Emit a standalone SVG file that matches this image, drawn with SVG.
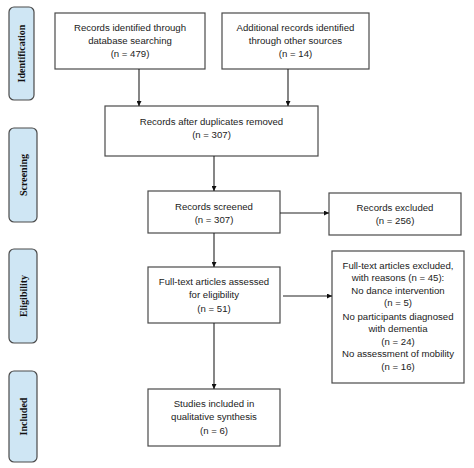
<svg xmlns="http://www.w3.org/2000/svg" width="474" height="468" viewBox="0 0 474 468">
<defs>
<marker id="ah" viewBox="0 0 10 10" refX="10" refY="5" markerWidth="5" markerHeight="5" orient="auto" markerUnits="userSpaceOnUse">
<path d="M0,0 L10,5 L0,10 Z" fill="#111"/>
</marker>
<style>
.box{fill:#fff;stroke:#4a4a4a;stroke-width:1.2}
.lab{fill:#cfe6f4;stroke:#4a4a4a;stroke-width:1.2}
.t{font-family:"Liberation Sans",Arial,sans-serif;font-size:9.6px;fill:#222;text-anchor:middle}
.lt{font-family:"Liberation Serif","Times New Roman",serif;font-size:10px;font-weight:bold;fill:#111;text-anchor:middle}
.c{stroke:#222;stroke-width:1.1;fill:none;marker-end:url(#ah)}
</style>
</defs>
<rect width="474" height="468" fill="#fff"/>
<g id="label-identification">
<rect class="lab" x="9" y="7" width="25" height="93" rx="5"/>
<text class="lt" transform="translate(25,53.5) rotate(-90)">Identification</text>
</g>
<g id="label-screening">
<rect class="lab" x="9" y="128" width="28" height="94" rx="5"/>
<text class="lt" transform="translate(26.5,175) rotate(-90)">Screening</text>
</g>
<g id="label-eligibility">
<rect class="lab" x="9" y="249" width="28" height="94" rx="5"/>
<text class="lt" transform="translate(26.5,296) rotate(-90)">Eligibility</text>
</g>
<g id="label-included">
<rect class="lab" x="9" y="371" width="28" height="91" rx="5"/>
<text class="lt" transform="translate(26.5,416.5) rotate(-90)">Included</text>
</g>
<g id="n-database">
<rect class="box" x="55" y="13" width="150" height="56"/>
<text class="t" x="130" y="31">Records identified through</text>
<text class="t" x="130" y="44">database searching</text>
<text class="t" x="130" y="57">(n = 479)</text>
</g>
<g id="n-other">
<rect class="box" x="222" y="13" width="147" height="56"/>
<text class="t" x="295.5" y="31">Additional records identified</text>
<text class="t" x="295.5" y="44">through other sources</text>
<text class="t" x="295.5" y="57">(n = 14)</text>
</g>
<g id="n-duplicates">
<rect class="box" x="105" y="106" width="213" height="50"/>
<text class="t" x="211.5" y="125">Records after duplicates removed</text>
<text class="t" x="211.5" y="138">(n = 307)</text>
</g>
<g id="n-screened">
<rect class="box" x="148" y="191" width="132" height="42"/>
<text class="t" x="214" y="210">Records screened</text>
<text class="t" x="214" y="223">(n = 307)</text>
</g>
<g id="n-excluded">
<rect class="box" x="329" y="193" width="132" height="42"/>
<text class="t" x="395" y="211">Records excluded</text>
<text class="t" x="395" y="224">(n = 256)</text>
</g>
<g id="n-fulltext">
<rect class="box" x="148" y="267" width="132" height="56"/>
<text class="t" x="214" y="285">Full-text articles assessed</text>
<text class="t" x="214" y="298">for eligibility</text>
<text class="t" x="214" y="312">(n = 51)</text>
</g>
<g id="n-ftexcluded">
<rect class="box" x="332" y="251" width="132" height="132"/>
<text class="t" x="398" y="269">Full-text articles excluded,</text>
<text class="t" x="398" y="281">with reasons (n = 45):</text>
<text class="t" x="398" y="294">No dance intervention</text>
<text class="t" x="398" y="306">(n = 5)</text>
<text class="t" x="398" y="320">No participants diagnosed</text>
<text class="t" x="398" y="332">with dementia</text>
<text class="t" x="398" y="345">(n = 24)</text>
<text class="t" x="398" y="357">No assessment of mobility</text>
<text class="t" x="398" y="370">(n = 16)</text>
</g>
<g id="n-included">
<rect class="box" x="148" y="389" width="132" height="57"/>
<text class="t" x="214" y="407">Studies included in</text>
<text class="t" x="214" y="420">qualitative synthesis</text>
<text class="t" x="214" y="434">(n = 6)</text>
</g>
<g id="connectors">
<line class="c" x1="139" y1="69" x2="139" y2="106"/>
<line class="c" x1="288" y1="69" x2="288" y2="106"/>
<line class="c" x1="214" y1="156" x2="214" y2="191"/>
<line class="c" x1="280" y1="213" x2="329" y2="213"/>
<line class="c" x1="214" y1="233" x2="214" y2="267"/>
<line class="c" x1="283" y1="296" x2="332" y2="296"/>
<line class="c" x1="214" y1="323" x2="214" y2="389"/>
</g>
</svg>
